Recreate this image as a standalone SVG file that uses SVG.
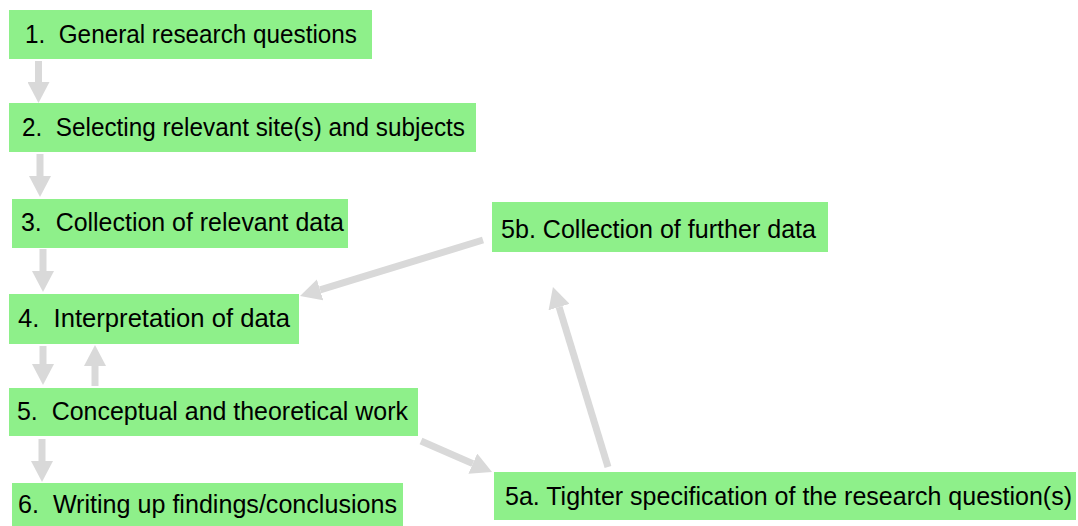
<svg xmlns="http://www.w3.org/2000/svg" width="1078" height="526" viewBox="0 0 1078 526">
<style>
.box{fill:#8EF08A;}
.lbl{font-family:"Liberation Sans",Arial,sans-serif;font-size:25px;fill:#000;white-space:pre;}
.arr{stroke:#D9D9D9;stroke-width:7;fill:none;marker-end:url(#head);}
</style>
<defs>
<marker id="head" markerUnits="userSpaceOnUse" markerWidth="22" markerHeight="22" refX="0" refY="11" orient="auto" viewBox="0 0 22 22">
<path d="M0,0 L21,11 L0,22 z" fill="#D9D9D9"/>
</marker>
</defs>
<rect width="1078" height="526" fill="#fff"/>
<g id="n1"><rect class="box" x="9" y="10" width="363" height="49"/><text class="lbl" x="25" y="43" textLength="332" lengthAdjust="spacingAndGlyphs" xml:space="preserve">1.  General research questions</text></g>
<g id="n2"><rect class="box" x="9" y="103" width="467" height="49"/><text class="lbl" x="22" y="136" textLength="443" lengthAdjust="spacingAndGlyphs" xml:space="preserve">2.  Selecting relevant site(s) and subjects</text></g>
<g id="n3"><rect class="box" x="12" y="199" width="336" height="49"/><text class="lbl" x="21" y="231" textLength="323" lengthAdjust="spacingAndGlyphs" xml:space="preserve">3.  Collection of relevant data</text></g>
<g id="n4"><rect class="box" x="9" y="294" width="290" height="50"/><text class="lbl" x="18" y="327" textLength="272" lengthAdjust="spacingAndGlyphs" xml:space="preserve">4.  Interpretation of data</text></g>
<g id="n5"><rect class="box" x="9" y="388" width="409" height="48"/><text class="lbl" x="17" y="420" textLength="391" lengthAdjust="spacingAndGlyphs" xml:space="preserve">5.  Conceptual and theoretical work</text></g>
<g id="n6"><rect class="box" x="12" y="483" width="391" height="43"/><text class="lbl" x="18" y="513" textLength="379" lengthAdjust="spacingAndGlyphs" xml:space="preserve">6.  Writing up findings/conclusions</text></g>
<g id="n5a"><rect class="box" x="494" y="472" width="582" height="48"/><text class="lbl" x="505" y="505" textLength="567" lengthAdjust="spacingAndGlyphs">5a. Tighter specification of the research question(s)</text></g>
<g id="n5b"><rect class="box" x="492" y="202" width="336" height="50"/><text class="lbl" x="501" y="238" textLength="315" lengthAdjust="spacingAndGlyphs">5b. Collection of further data</text></g>
<g id="connectors">
<line class="arr" x1="38.5" y1="61" x2="38.5" y2="82"/>
<line class="arr" x1="40" y1="154" x2="40" y2="176"/>
<line class="arr" x1="43" y1="249" x2="43" y2="271"/>
<line class="arr" x1="43" y1="346" x2="43" y2="364"/>
<line class="arr" x1="95" y1="386" x2="95" y2="366"/>
<line class="arr" x1="42" y1="439" x2="42" y2="461"/>
<line class="arr" x1="421" y1="441" x2="472.8" y2="463.6"/>
<line class="arr" x1="483" y1="240" x2="320.1" y2="289.9"/>
<line class="arr" x1="608" y1="467" x2="559.1" y2="307.1"/>
</g>
</svg>
